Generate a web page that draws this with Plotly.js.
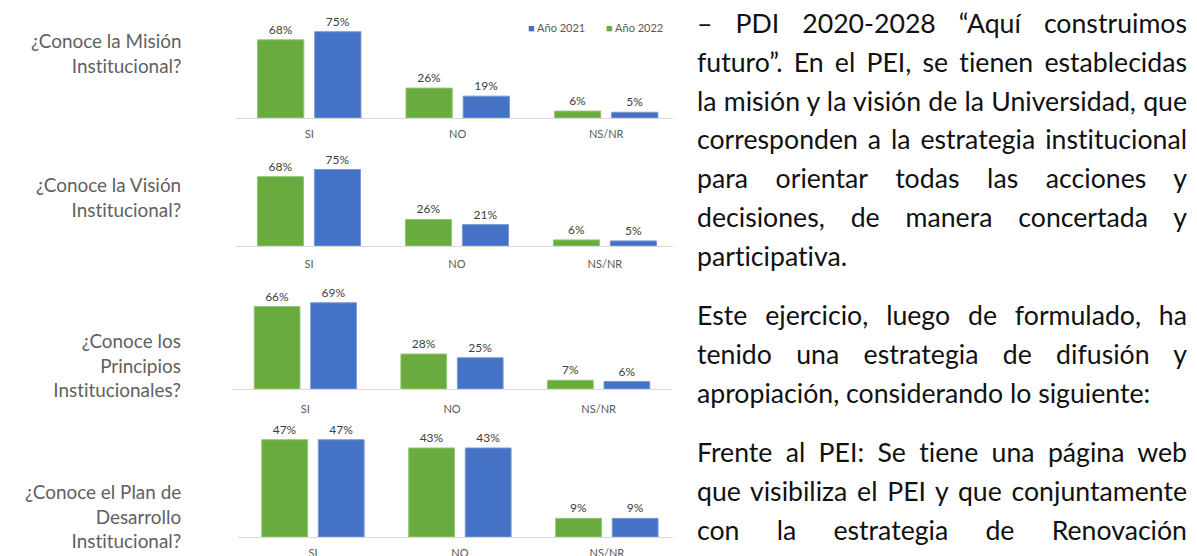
<!DOCTYPE html>
<html>
<head>
<meta charset="utf-8">
<script src="https://cdn.plot.ly/plotly-3.0.1.min.js"></script>
<style>
  html, body { margin: 0; padding: 0; background: #fff; overflow: hidden; }
  #page { position: relative; width: 1197px; height: 556px; }
  #chart { position: absolute; left: 0; top: 0; width: 1197px; height: 556px; }
  #chart text { font-variant-ligatures: none; font-feature-settings: "liga" 0, "clig" 0; }
  #texto { position: absolute; left: 697px; top: 4px; width: 490px; font-family: Lato, sans-serif; color: #111;
           line-height: 38.8px; font-variant-ligatures: none; font-feature-settings: "liga" 0, "clig" 0; }
  #texto p { margin: 0 0 20.6px 0; }
  #texto .l { display: block; white-space: nowrap; text-align: justify; text-align-last: justify; }
  #texto .fin { text-align: left; text-align-last: left; }
</style>
</head>
<body>
<div id="page">
  <div id="chart"></div>
  <div id="texto"></div>
</div>
<script>
const W = 1197, H = 556;

// categorias y series (porcentajes)
const categorias = ['SI', 'NO', 'NS/NR'];
const mision2022 = [68, 26, 6];
const mision2021 = [75, 19, 5];
const vision2022 = [68, 26, 6];
const vision2021 = [75, 21, 5];
const principios2022 = [66, 28, 7];
const principios2021 = [69, 25, 6];
const plan2022 = [47, 43, 9];
const plan2021 = [47, 43, 9];

const preguntas = [
    ['¿Conoce la Misión', 'Institucional?'],
    ['¿Conoce la Visión', 'Institucional?'],
    ['¿Conoce los', 'Principios', 'Institucionales?'],
    ['¿Conoce el Plan de', 'Desarrollo', 'Institucional?']
];

const parrafos = [
    ['– PDI 2020-2028 “Aquí construimos',
     'futuro”. En el PEI, se tienen establecidas',
     'la misión y la visión de la Universidad, que',
     'corresponden a la estrategia institucional',
     'para orientar todas las acciones y',
     'decisiones, de manera concertada y',
     'participativa.'],
    ['Este ejercicio, luego de formulado, ha',
     'tenido una estrategia de difusión y',
     'apropiación, considerando lo siguiente:'],
    ['Frente al PEI: Se tiene una página web',
     'que visibiliza el PEI y que conjuntamente',
     'con la estrategia de Renovación']
];
const parrafoAbierto = [false, false, true]; // el ultimo sigue en la pagina siguiente

const verde = '#6aab3f';
const azul = '#4472c4';

// cajas de cada grafico en pixeles
const paneles = [
    { x0: 235, x1: 673, r0: -0.5, r1: 2.45, base: 118, escala: 1.15, ymax: 80, standoff: 6, etiqueta: 53 },
    { x0: 235, x1: 673, r0: -0.5, r1: 2.46, base: 246, escala: 1.02, ymax: 80, standoff: 8, etiqueta: 197 },
    { x0: 232, x1: 672, r0: -0.5, r1: 2.50, base: 389, escala: 1.25, ymax: 80, standoff: 10, etiqueta: 365 },
    { x0: 238, x1: 673, r0: -0.51, r1: 2.45, base: 537, escala: 2.07, ymax: 50, standoff: 6, etiqueta: 516 }
];
const series = [
    [mision2022, mision2021],
    [vision2022, vision2021],
    [principios2022, principios2021],
    [plan2022, plan2021]
];

function medir(lineas, peso, familia) {
    const ctx = document.createElement('canvas').getContext('2d');
    ctx.font = `${peso} 100px ${familia}`;
    return Math.max(...lineas.map(t => ctx.measureText(t).width)) / 100;
}

const fuente = 'Lato, sans-serif';
const tamPregunta = 110 / medir(['Institucional?'], 400, 'Lato');

const traces = [];
const layout = {
    width: W, height: H,
    margin: { l: 0, r: 0, t: 0, b: 0 },
    paper_bgcolor: '#fff', plot_bgcolor: 'rgba(0,0,0,0)',
    showlegend: false,
    barmode: 'group', bargap: 0.23, bargroupgap: 0.19,
    font: { family: fuente, color: '#404040' },
    annotations: []
};

paneles.forEach((p, i) => {
    const n = i === 0 ? '' : String(i + 1);
    const top = p.base - p.ymax * p.escala;
    layout['xaxis' + n] = {
        domain: [p.x0 / W, p.x1 / W], range: [p.r0, p.r1], type: 'category',
        anchor: 'y' + n, showline: true, linecolor: '#d9d9d9', linewidth: 1,
        showgrid: false, zeroline: false, ticks: '', ticklabelstandoff: p.standoff,
        tickfont: { size: 11, color: '#595959', family: fuente }, fixedrange: true
    };
    layout['yaxis' + n] = {
        domain: [1 - p.base / H, 1 - top / H], range: [0, p.ymax],
        anchor: 'x' + n, visible: false, fixedrange: true
    };
    const [v22, v21] = series[i];
    [[v22, verde, '#93c873', 'Año 2022'], [v21, azul, '#7a9bd8', 'Año 2021']].forEach(([vals, col, borde, nombre]) => {
        traces.push({
            type: 'bar', x: categorias, y: vals, name: nombre,
            xaxis: 'x' + n, yaxis: 'y' + n,
            marker: { color: col, line: { color: borde, width: 1 } },
            text: vals.map(v => v + '%'), textposition: 'outside', cliponaxis: false,
            constraintext: 'none',
            outsidetextfont: { size: 12, color: '#404040', family: fuente },
            hoverinfo: 'skip'
        });
    });
    layout.annotations.push({
        xref: 'paper', yref: 'paper', x: 183 / W, y: 1 - p.etiqueta / H,
        xanchor: 'right', yanchor: 'middle', align: 'right', showarrow: false,
        text: preguntas[i].join('<br>'),
        font: { family: fuente, size: tamPregunta, color: '#5f5f5f' }
    });
});

// leyenda (solo en el primer grafico)
[['Año 2021', azul, 526], ['Año 2022', verde, 604]].forEach(([t, c, x]) => {
    layout.annotations.push({
        xref: 'paper', yref: 'paper', x: x / W, y: 1 - 27 / H,
        xanchor: 'left', yanchor: 'middle', showarrow: false,
        text: `<span style="color:${c}">■</span> ${t}`,
        font: { family: fuente, size: 11, color: '#595959' }
    });
});

Plotly.newPlot('chart', traces, layout, { staticPlot: true, displayModeBar: false });

// texto del documento, justificado
const todas = parrafos.flat();
const tamTexto = 489 / medir(todas, 400, 'Lato');
const caja = document.getElementById('texto');
caja.style.fontSize = tamTexto + 'px';
parrafos.forEach((lineas, k) => {
    const p = document.createElement('p');
    lineas.forEach((t, j) => {
        const s = document.createElement('span');
        s.className = 'l' + (j === lineas.length - 1 && !parrafoAbierto[k] ? ' fin' : '');
        s.textContent = t;
        p.appendChild(s);
    });
    caja.appendChild(p);
});
</script>
</body>
</html>
